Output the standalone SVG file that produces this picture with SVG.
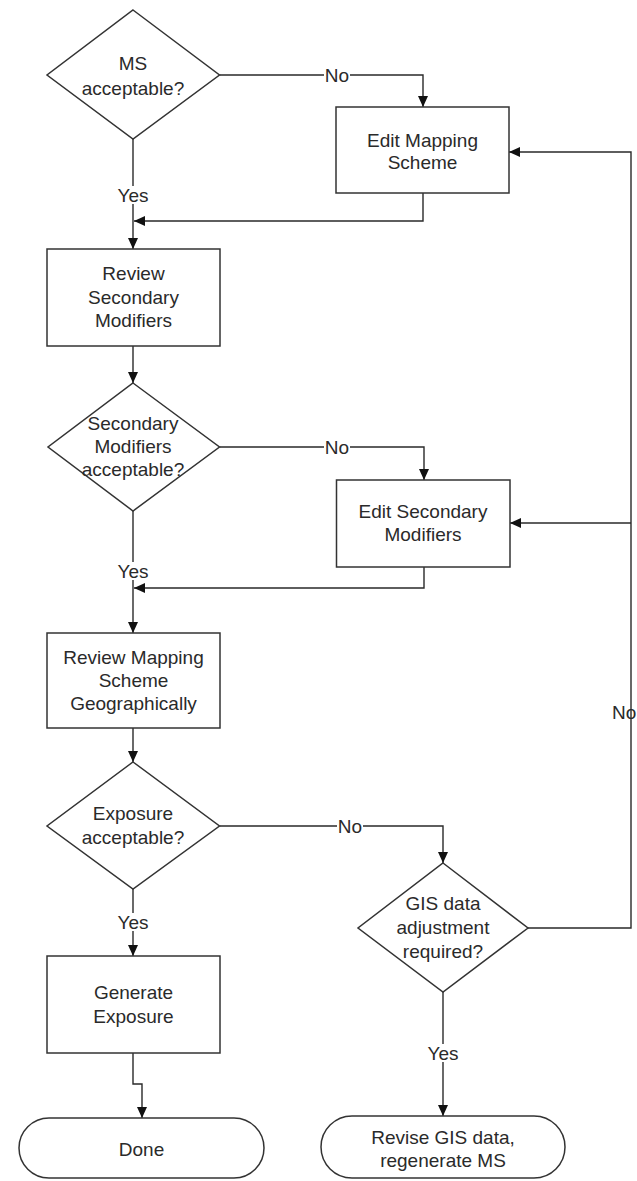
<svg xmlns="http://www.w3.org/2000/svg" width="637" height="1181" viewBox="0 0 637 1181">
<style>
.shape{fill:#fff;stroke:#333;stroke-width:1.5}
.conn{fill:none;stroke:#2a2a2a;stroke-width:1.4}
text{font-family:"Liberation Sans",Arial,sans-serif;font-size:19px;fill:#2a2a2a;text-anchor:middle}
.lbg{fill:#fff;stroke:none}
</style>
<defs>
<marker id="arr" markerUnits="userSpaceOnUse" viewBox="0 0 11 10" refX="11" refY="5" markerWidth="11" markerHeight="10" orient="auto">
<path d="M0,0 L11,5 L0,10 z" fill="#111"/>
</marker>
</defs>
<rect width="637" height="1181" fill="#fff"/>
<g id="connectors">
<path class="conn" d="M219.5,75 H423 V107" marker-end="url(#arr)"/>
<path class="conn" d="M133,139 V249" marker-end="url(#arr)"/>
<path class="conn" d="M423,193 V221 H134" marker-end="url(#arr)"/>
<path class="conn" d="M133,346 V383" marker-end="url(#arr)"/>
<path class="conn" d="M219.5,447 H424 V480" marker-end="url(#arr)"/>
<path class="conn" d="M133,511 V633" marker-end="url(#arr)"/>
<path class="conn" d="M424,567 V588 H134" marker-end="url(#arr)"/>
<path class="conn" d="M133,728 V762" marker-end="url(#arr)"/>
<path class="conn" d="M219.5,826 H443 V863" marker-end="url(#arr)"/>
<path class="conn" d="M133,889 V956" marker-end="url(#arr)"/>
<path class="conn" d="M528,928 H631 V152 H509" marker-end="url(#arr)"/>
<path class="conn" d="M631,523 H510" marker-end="url(#arr)"/>
<path class="conn" d="M443,992 V1116" marker-end="url(#arr)"/>
<path class="conn" d="M133,1053 V1084 H142 V1118" marker-end="url(#arr)"/>
<rect class="lbg" x="324" y="66" width="26" height="18"/>
<text x="337" y="82">No</text>
<rect class="lbg" x="116" y="186" width="34" height="18"/>
<text x="133" y="202">Yes</text>
<rect class="lbg" x="324" y="438" width="26" height="18"/>
<text x="337" y="454">No</text>
<rect class="lbg" x="116" y="562" width="34" height="18"/>
<text x="133" y="578">Yes</text>
<rect class="lbg" x="337" y="817" width="26" height="18"/>
<text x="350" y="833">No</text>
<rect class="lbg" x="116" y="913" width="34" height="18"/>
<text x="133" y="929">Yes</text>
<rect class="lbg" x="426" y="1044" width="34" height="18"/>
<text x="443" y="1060">Yes</text>
<text x="612" y="719" style="text-anchor:start">No</text>
</g>
<g id="ms-acceptable">
<polygon class="shape" points="133,10 219.5,75 133,139 47,75"/>
<text x="133" y="70">MS</text>
<text x="133" y="95">acceptable?</text>
</g>
<g id="edit-mapping-scheme">
<rect class="shape" x="336" y="107" width="173" height="86"/>
<text x="422.5" y="147">Edit Mapping</text>
<text x="422.5" y="169">Scheme</text>
</g>
<g id="review-secondary-modifiers">
<rect class="shape" x="47" y="249" width="173" height="97"/>
<text x="133.5" y="280">Review</text>
<text x="133.5" y="304">Secondary</text>
<text x="133.5" y="327">Modifiers</text>
</g>
<g id="secondary-modifiers-acceptable">
<polygon class="shape" points="133,383 219.5,447 133,511 48,447"/>
<text x="133" y="430">Secondary</text>
<text x="133" y="453">Modifiers</text>
<text x="133" y="476">acceptable?</text>
</g>
<g id="edit-secondary-modifiers">
<rect class="shape" x="336.5" y="480" width="173.5" height="87"/>
<text x="423" y="518">Edit Secondary</text>
<text x="423" y="541">Modifiers</text>
</g>
<g id="review-mapping-scheme-geographically">
<rect class="shape" x="47" y="633" width="173" height="95"/>
<text x="133.5" y="664">Review Mapping</text>
<text x="133.5" y="687">Scheme</text>
<text x="133.5" y="710">Geographically</text>
</g>
<g id="exposure-acceptable">
<polygon class="shape" points="133,762 219.5,826 133,889 47,826"/>
<text x="133" y="820">Exposure</text>
<text x="133" y="844">acceptable?</text>
</g>
<g id="gis-adjustment-required">
<polygon class="shape" points="443,863 528,928 443,992 358,928"/>
<text x="443" y="910">GIS data</text>
<text x="443" y="934">adjustment</text>
<text x="443" y="958">required?</text>
</g>
<g id="generate-exposure">
<rect class="shape" x="47" y="956" width="173" height="97"/>
<text x="133.5" y="999">Generate</text>
<text x="133.5" y="1023">Exposure</text>
</g>
<g id="done">
<rect class="shape" x="19" y="1118" width="245" height="60" rx="30" ry="30"/>
<text x="141.5" y="1156">Done</text>
</g>
<g id="revise-gis-data">
<rect class="shape" x="321" y="1116" width="244" height="62" rx="31" ry="31"/>
<text x="443" y="1144">Revise GIS data,</text>
<text x="443" y="1167">regenerate MS</text>
</g>
</svg>
